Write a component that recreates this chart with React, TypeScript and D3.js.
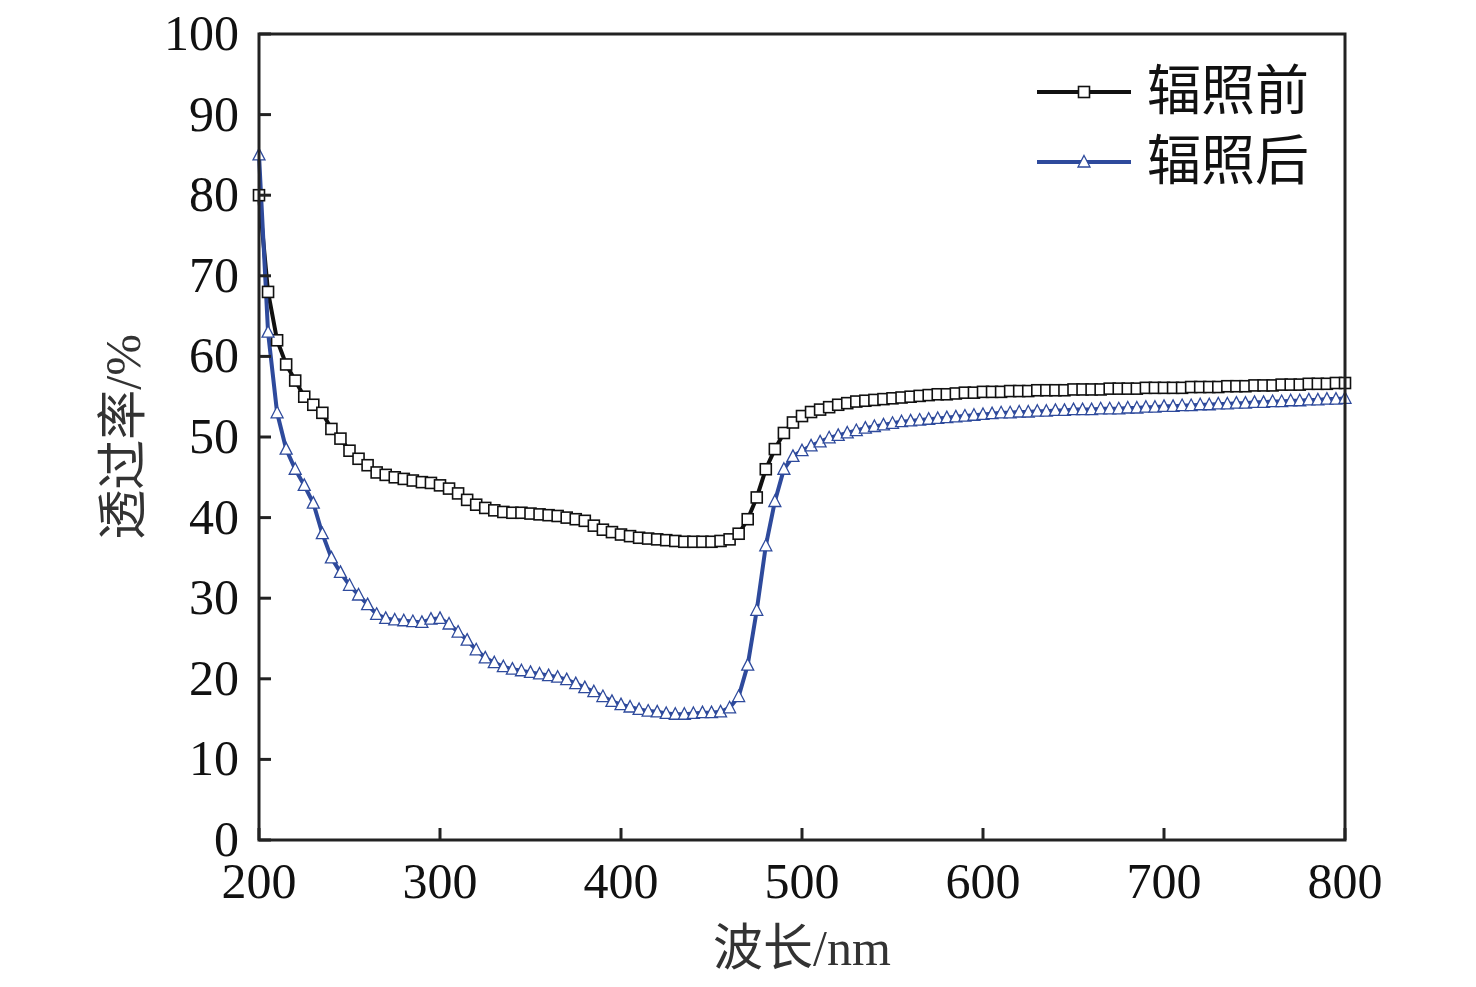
import React from "react";
import * as d3 from "d3";

// wavelength grid (nm), one marker per 5 nm
const wavelengths: number[] = d3.range(200, 801, 5);

const beforeIrradiation: number[] = [
  80, 68, 62, 59, 57, 55, 54, 53, 51, 49.8, 48.3, 47.3, 46.5, 45.6, 45.3, 45, 44.8, 44.6, 44.4, 44.3,
  44, 43.6, 43, 42.2, 41.6, 41.2, 40.9, 40.7, 40.6, 40.6, 40.5, 40.4, 40.3, 40.2, 40, 39.8, 39.6, 39, 38.5, 38.2,
  37.9, 37.7, 37.5, 37.4, 37.3, 37.2, 37.1, 37, 37, 37, 37, 37.1, 37.3, 38, 39.8, 42.5, 46, 48.5, 50.5, 51.8,
  52.6, 53.1, 53.4, 53.7, 54, 54.2, 54.4, 54.5, 54.6, 54.7, 54.8, 54.9, 55, 55.1, 55.2, 55.3, 55.3, 55.4, 55.5, 55.5,
  55.6, 55.6, 55.6, 55.7, 55.7, 55.7, 55.8, 55.8, 55.8, 55.8, 55.9, 55.9, 55.9, 55.9, 56, 56, 56, 56, 56.1, 56.1,
  56.1, 56.1, 56.1, 56.2, 56.2, 56.2, 56.2, 56.3, 56.3, 56.3, 56.4, 56.4, 56.4, 56.5, 56.5, 56.5, 56.6, 56.6, 56.6, 56.7,
  56.7,
];

const afterIrradiation: number[] = [
  85, 63, 53, 48.5, 46, 44, 41.8, 38, 35, 33.2, 31.6, 30.4, 29.2, 28, 27.5, 27.3, 27.2, 27.1, 27, 27.4,
  27.5, 26.8, 25.8, 24.8, 23.6, 22.6, 22, 21.5, 21.2, 21, 20.8, 20.6, 20.4, 20.2, 19.9, 19.4, 18.9, 18.4, 17.8, 17.2,
  16.8, 16.5, 16.2, 16, 15.9, 15.7, 15.6, 15.6, 15.7, 15.8, 15.8, 15.9, 16.4, 17.8, 21.7, 28.5, 36.5, 42, 46, 47.6,
  48.3, 48.9, 49.4, 49.9, 50.2, 50.5, 50.8, 51.1, 51.3, 51.5, 51.7, 51.9, 52, 52.1, 52.2, 52.3, 52.4, 52.5, 52.6, 52.7,
  52.8, 52.9, 53, 53, 53.1, 53.1, 53.2, 53.2, 53.3, 53.3, 53.4, 53.4, 53.4, 53.5, 53.5, 53.5, 53.6, 53.6, 53.7, 53.7,
  53.8, 53.8, 53.9, 53.9, 54, 54, 54.1, 54.1, 54.2, 54.2, 54.3, 54.3, 54.4, 54.4, 54.5, 54.5, 54.6, 54.6, 54.7, 54.7,
  54.8,
];

const xTicks: number[] = [200, 300, 400, 500, 600, 700, 800];
const yTicks: number[] = [0, 10, 20, 30, 40, 50, 60, 70, 80, 90, 100];
const seriesNames: string[] = ["辐照前", "辐照后"];

const BLUE = "#2E4A9C";
const FONT = "'Liberation Serif', 'Noto Sans CJK SC', serif";

const App: React.FC = () => {
  const width = 1476,
    height = 987,
    margin = { top: 34, right: 131, bottom: 147, left: 259 };

  const x = d3.scaleLinear().domain([200, 800]).range([margin.left, width - margin.right]);
  const y = d3.scaleLinear().domain([0, 100]).range([height - margin.bottom, margin.top]);

  const line = d3
    .line<number>()
    .x((_, i) => x(wavelengths[i]))
    .y((d) => y(d));

  const square = (cx: number, cy: number, k: string) => (
    <rect key={k} x={cx - 5.5} y={cy - 5.5} width={11} height={11} fill="#fff" stroke="#111" strokeWidth={1.6} />
  );
  const triangle = (cx: number, cy: number, k: string) => (
    <path
      key={k}
      d={`M${cx},${cy - 6.5}L${cx + 6},${cy + 5}L${cx - 6},${cy + 5}Z`}
      fill="#fff"
      stroke={BLUE}
      strokeWidth={1.3}
    />
  );

  const x0 = x(200), x1 = x(800), y0 = y(0), y1 = y(100);

  return (
    <svg width={width} height={height} style={{ position: "absolute", left: 0, top: 0 }}>
      <rect width={width} height={height} fill="#fff" />
      {/* series */}
      <path d={line(beforeIrradiation) ?? ""} fill="none" stroke="#111" strokeWidth={4} />
      <path d={line(afterIrradiation) ?? ""} fill="none" stroke={BLUE} strokeWidth={4} />
      {beforeIrradiation.map((v, i) => square(x(wavelengths[i]), y(v), `b${i}`))}
      {afterIrradiation.map((v, i) => triangle(x(wavelengths[i]), y(v), `a${i}`))}

      {/* frame */}
      <rect x={x0} y={y1} width={x1 - x0} height={y0 - y1} fill="none" stroke="#222" strokeWidth={3} />
      {xTicks.map((t) => (
        <g key={`xt${t}`}>
          <line x1={x(t)} x2={x(t)} y1={y0} y2={y0 - 12} stroke="#222" strokeWidth={3} />
          <text x={x(t)} y={y0 + 58} textAnchor="middle" fontSize={50} fontFamily={FONT} fill="#111">
            {t}
          </text>
        </g>
      ))}
      {yTicks.map((t) => (
        <g key={`yt${t}`}>
          <line x1={x0} x2={x0 + 12} y1={y(t)} y2={y(t)} stroke="#222" strokeWidth={3} />
          <text x={x0 - 20} y={y(t) + 16} textAnchor="end" fontSize={50} fontFamily={FONT} fill="#111">
            {t}
          </text>
        </g>
      ))}

      {/* axis titles */}
      <text x={(x0 + x1) / 2} y={965} textAnchor="middle" fontSize={50} fontFamily={FONT} fill="#333">
        波长/nm
      </text>
      <text
        transform={`translate(140,${(y0 + y1) / 2}) rotate(-90)`}
        textAnchor="middle"
        fontSize={50}
        fontFamily={FONT}
        fill="#333"
      >
        透过率/%
      </text>

      {/* legend */}
      {seriesNames.map((name, i) => {
        const ly = 92 + i * 70;
        return (
          <g key={name}>
            <line x1={1037} x2={1131} y1={ly} y2={ly} stroke={i === 0 ? "#111" : BLUE} strokeWidth={4} />
            {i === 0 ? square(1084, ly, "ls") : triangle(1084, ly, "lt")}
            <text x={1147} y={ly + 18} fontSize={54} fontFamily={FONT} fill="#111">
              {name}
            </text>
          </g>
        );
      })}
    </svg>
  );
};

export default App;
